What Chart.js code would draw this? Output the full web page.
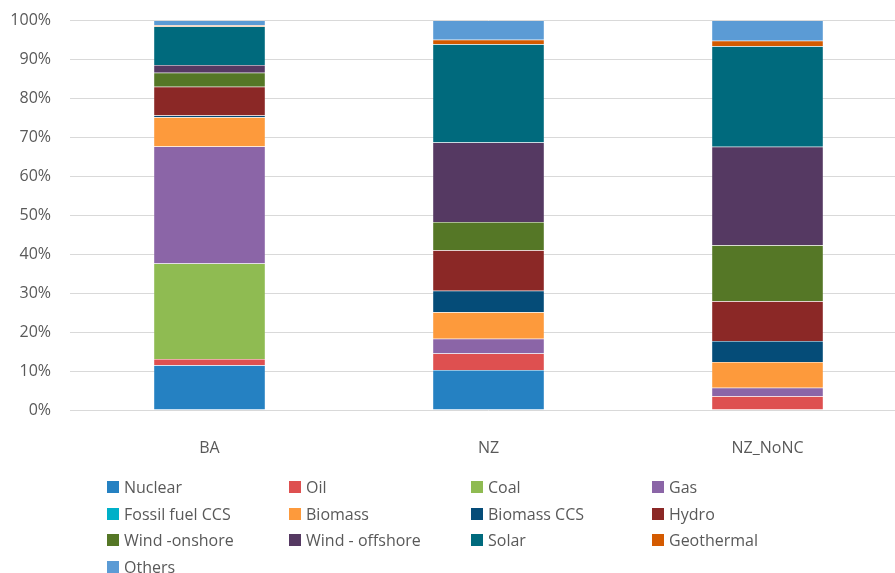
<!DOCTYPE html>
<html>
<head>
<meta charset="utf-8">
<script src="https://cdn.jsdelivr.net/npm/chart.js@4/dist/chart.umd.min.js"></script>
<style>
  html, body { margin: 0; padding: 0; background: #fff; overflow: hidden; }
  #wrap { position: relative; width: 907px; height: 573px; overflow: hidden; }
  #mixChart { position: absolute; left: 0; top: -8px; }
  #legend {
    position: absolute; left: 107px; top: 476px;
    display: grid; grid-template-columns: 182px 182px 181px 182px;
    row-gap: 4.5px;
    font-family: "Open Sans", "Liberation Sans", sans-serif; font-size: 16px; color: #595959;
  }
  #legend div { display: flex; align-items: center; height: 22px; white-space: nowrap; }
  #legend span.box { display: inline-block; width: 12px; height: 12px; margin-right: 5px; }
</style>
</head>
<body>
<div id="wrap">
  <canvas id="mixChart" width="907" height="581"></canvas>
  <div id="legend"></div>
</div>
<script>
// scenarios
var categories = ['BA', 'NZ', 'NZ_NoNC'];

// share of generation (%) per technology
var nuclear      = [11.5, 10.3, 0];
var oil          = [1.6, 4.2, 3.5];
var coal         = [24.5, 0, 0];
var gas          = [30.1, 3.8, 2.2];
var fossilCCS    = [0, 0, 0];
var biomass      = [7.5, 6.8, 6.6];
var biomassCCS   = [0.4, 5.5, 5.4];
var hydro        = [7.4, 10.4, 10.2];
var windOnshore  = [3.6, 7.3, 14.4];
var windOffshore = [2.0, 20.4, 25.3];
var solar        = [9.9, 25.2, 25.8];
var geothermal   = [0.3, 1.2, 1.4];
var others       = [1.2, 4.9, 5.2];

var seriesNames = ['Nuclear', 'Oil', 'Coal', 'Gas', 'Fossil fuel CCS', 'Biomass', 'Biomass CCS',
                   'Hydro', 'Wind -onshore', 'Wind - offshore', 'Solar', 'Geothermal', 'Others'];
var seriesData = [nuclear, oil, coal, gas, fossilCCS, biomass, biomassCCS,
                  hydro, windOnshore, windOffshore, solar, geothermal, others];
var seriesColors = ['#2581C2', '#DE5050', '#8FBB52', '#8B65A7', '#00B0C8', '#FD9A3C', '#054C78',
                    '#8B2826', '#557726', '#553962', '#006A7D', '#D45A00', '#5B9BD5'];

var yTicks = [0, 10, 20, 30, 40, 50, 60, 70, 80, 90, 100];

document.addEventListener('DOMContentLoaded', function () {
    var datasets = seriesNames.map(function (name, i) {
        return {
            label: name,
            data: seriesData[i],
            backgroundColor: seriesColors[i],
            borderColor: 'rgba(255,255,255,0.35)',
            borderWidth: 0.5,
            barPercentage: 0.4,
            categoryPercentage: 1.0
        };
    });

    var ctx = document.getElementById('mixChart').getContext('2d');
    new Chart(ctx, {
        type: 'bar',
        data: { labels: categories, datasets: datasets },
        options: {
            responsive: false,
            animation: false,
            layout: { padding: { top: 12, right: 0, left: 0, bottom: 0 } },
            plugins: { legend: { display: false }, tooltip: { enabled: false } },
            scales: {
                x: {
                    stacked: true,
                    grid: { display: false, drawTicks: false },
                    border: { display: false },
                    ticks: { color: '#595959', padding: 29,
                             font: { family: '"Open Sans", "Liberation Sans", sans-serif', size: 16 } },
                    afterFit: function (scale) { scale.height = 163; }
                },
                y: {
                    stacked: true,
                    min: 0,
                    max: 100,
                    afterBuildTicks: function (scale) {
                        scale.ticks = yTicks.map(function (v) { return { value: v }; });
                    },
                    grid: { color: '#D9D9D9', lineWidth: 1, drawTicks: false },
                    border: { display: false },
                    ticks: {
                        color: '#595959', padding: 19,
                        font: { family: '"Open Sans", "Liberation Sans", sans-serif', size: 16 },
                        callback: function (v) { return v + '%'; }
                    },
                    afterFit: function (scale) { scale.width = 70; }
                }
            }
        }
    });

    // legend in four columns
    var legend = document.getElementById('legend');
    seriesNames.forEach(function (name, i) {
        var item = document.createElement('div');
        var box = document.createElement('span');
        box.className = 'box';
        box.style.background = seriesColors[i];
        item.appendChild(box);
        item.appendChild(document.createTextNode(name));
        legend.appendChild(item);
    });
});
</script>
</body>
</html>
